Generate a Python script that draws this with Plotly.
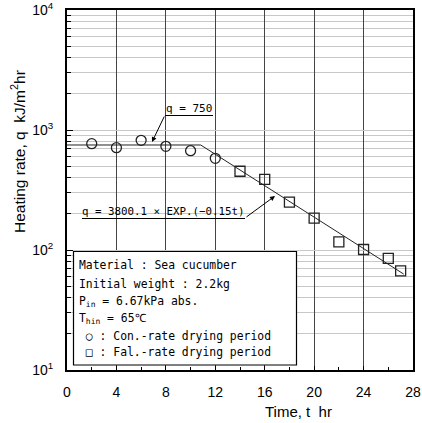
import plotly.graph_objects as go

# ---- data ----
t_con = [2, 4, 6, 8, 10, 12]
q_con = [769, 712, 820, 731, 672, 581]
t_fal = [14, 16, 18, 20, 22, 24, 26, 27]
q_fal = [453, 388, 251, 184, 117, 101, 85, 67]
t_fit = [0, 10.82, 27.25]
q_fit = [750, 750, 63]

x_ticks = [0, 4, 8, 12, 16, 20, 24, 28]
y_tickvals = [10, 100, 1000, 10000]
y_ticktext = ["10<sup>1</sup>", "10<sup>2</sup>", "10<sup>3</sup>", "10<sup>4</sup>"]

legend_lines = [
    "Material : Sea cucumber",
    "Initial weight : 2.2kg",
    "P<sub>in</sub> = 6.67kPa abs.",
    "T<sub>hin</sub> = 65℃",
    " ○ : Con.-rate drying period",
    " □ : Fal.-rate drying period",
]

W, H = 422, 423
ML, MR, MT, MB = 67, 9, 10, 53
PW, PH = W - ML - MR, H - MT - MB


def px(x):
    return (x - ML) / PW


def py(y):
    return (MT + PH - y) / PH


MONO = "DejaVu Sans Mono"
SANS = "Liberation Sans, Arial, sans-serif"

fig = go.Figure()
fig.add_trace(go.Scatter(x=t_fit, y=q_fit, mode="lines",
                         line=dict(color="#222", width=1), showlegend=False))
fig.add_trace(go.Scatter(x=t_con, y=q_con, mode="markers",
                         marker=dict(symbol="circle-open", size=10, color="#222",
                                     line=dict(width=1.3)), showlegend=False))
fig.add_trace(go.Scatter(x=t_fal, y=q_fal, mode="markers",
                         marker=dict(symbol="square-open", size=10, color="#222",
                                     line=dict(width=1.3)), showlegend=False))

shapes = []
annotations = []


def ann(x, y, text, **kw):
    d = dict(xref="paper", yref="paper", x=px(x), y=py(y), text=text,
             showarrow=False, xanchor="center", yanchor="middle")
    d.update(kw)
    annotations.append(d)


def rect(x0, x1, y0, y1, **kw):
    d = dict(type="rect", xref="paper", yref="paper",
             x0=px(x0), x1=px(x1), y0=py(y1), y1=py(y0))
    d.update(kw)
    shapes.append(d)


def hline(x0, x1, y):
    shapes.append(dict(type="line", xref="paper", yref="paper",
                       x0=px(x0), x1=px(x1), y0=py(y), y1=py(y),
                       line=dict(color="black", width=1), layer="above"))


# q = 750 label
rect(158, 221, 97, 124, line=dict(width=0), fillcolor="white", layer="between")
ann(189, 108.5, "q = 750", font=dict(family=MONO, size=11, color="black"))
hline(165, 213, 115.5)
annotations.append(dict(xref="paper", yref="paper", x=px(152), y=py(142),
                        ax=13, ay=-27, text="", showarrow=True,
                        arrowhead=2, arrowsize=1, arrowwidth=1, arrowcolor="black"))

# exponential label
rect(75, 252, 203, 228, line=dict(width=0), fillcolor="white", layer="between")
ann(163.5, 211, "q = 3800.1 × EXP.(−0.15t)",
    font=dict(family=MONO, size=10.8, color="black"))
hline(82, 245, 218.5)
annotations.append(dict(xref="paper", yref="paper", x=px(275), y=py(196),
                        ax=-30, ay=22, text="", showarrow=True,
                        arrowhead=2, arrowsize=1, arrowwidth=1, arrowcolor="black"))

# legend box
rect(73.5, 296.5, 251.5, 365, line=dict(color="black", width=1.2),
     fillcolor="white", layer="above")
line_ys = [265, 283.5, 301, 318.5, 335.5, 351.5]
for txt, yy in zip(legend_lines, line_ys):
    ann(76.5, yy, txt, xanchor="left", font=dict(family=MONO, size=11.4, color="black"))

# axis titles
ann(18, 152, "Heating rate, q  kJ/m<sup>2</sup>hr", textangle=-90,
    font=dict(family=SANS, size=15.5, color="black"))
ann(298, 411, "Time, t  hr", font=dict(family=SANS, size=15, color="black"))

fig.update_layout(
    width=W, height=H,
    margin=dict(l=ML, r=MR, t=MT, b=MB, autoexpand=False),
    paper_bgcolor="white", plot_bgcolor="white",
    shapes=shapes, annotations=annotations,
    showlegend=False,
)
fig.update_xaxes(range=[0, 28], tickvals=x_ticks, showgrid=True,
                 gridcolor="#444", gridwidth=1.2, automargin=False,
                 ticks="inside", ticklen=4, tickcolor="black",
                 minor=dict(dtick=2, ticks="inside", ticklen=3, tickcolor="black", showgrid=False),
                 showline=True, linecolor="black", linewidth=2, mirror=True,
                 zeroline=False, ticklabelstandoff=8,
                 tickfont=dict(family=SANS, size=14, color="black"))
fig.update_yaxes(type="log", range=[1, 4], tickvals=y_tickvals, ticktext=y_ticktext,
                 showgrid=True, gridcolor="#c8c8c8", gridwidth=1, automargin=False,
                 ticks="inside", ticklen=6, tickcolor="black",
                 minor=dict(dtick="D1", ticks="inside", ticklen=4, tickcolor="black",
                            showgrid=True, gridcolor="#c8c8c8", gridwidth=1),
                 showline=True, linecolor="black", linewidth=2, mirror=True,
                 zeroline=False, ticklabelstandoff=9,
                 tickfont=dict(family=SANS, size=14, color="black"))

fig.write_html("out.html")
